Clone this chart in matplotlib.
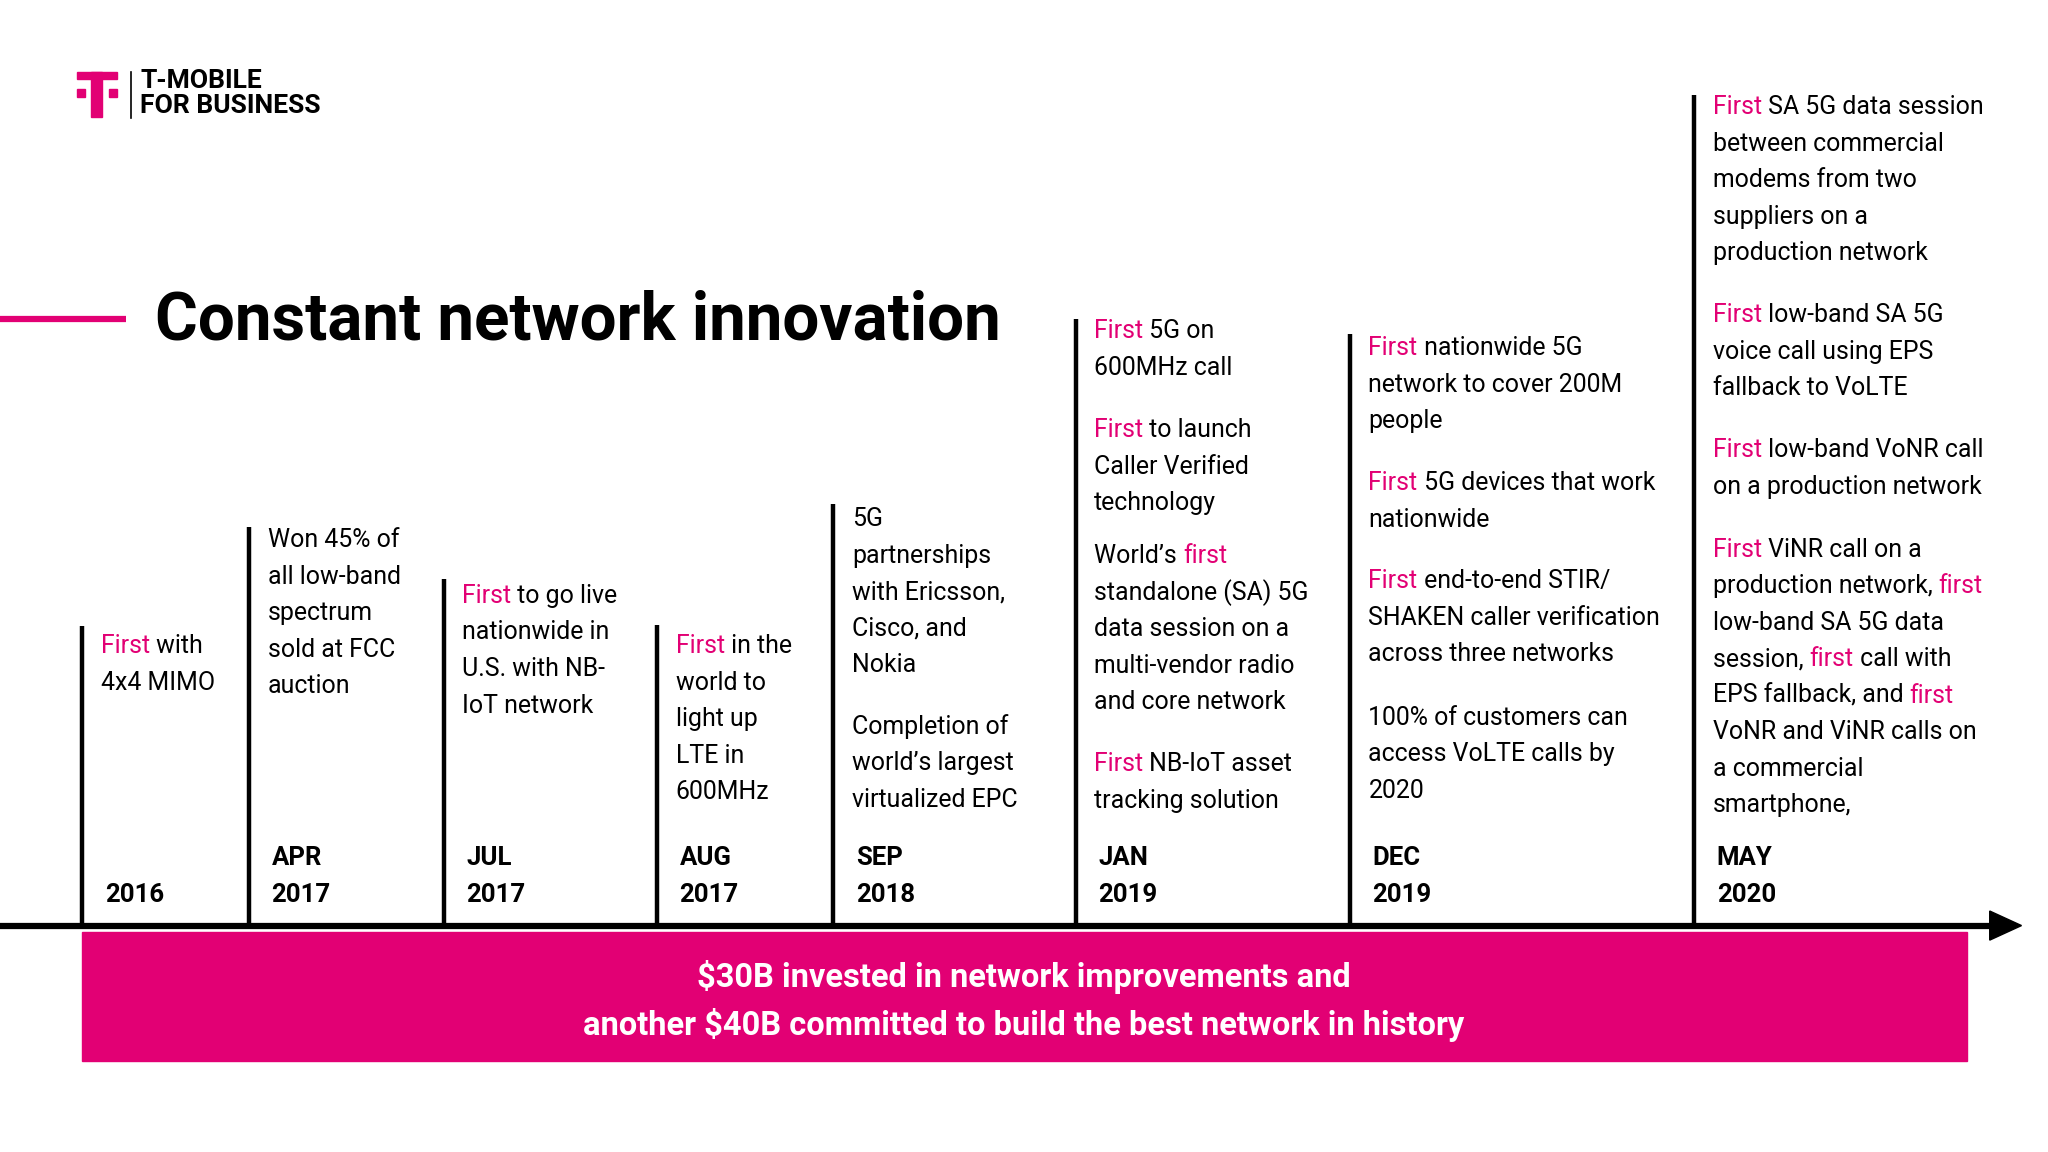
import matplotlib.pyplot as plt
from matplotlib.patches import Rectangle, Polygon

MAGENTA = '#E20074'
W, H = 1546, 870          # reference layout units
PT = 1152 / H * 0.72      # layout px -> points

title = "Constant network innovation"
banner = ["$30B invested in network improvements and",
          "another $40B committed to build the best network in history"]

# each milestone: (line x, line top, date lines, text blocks)
# text blocks: list of (start y, lines); *word* is drawn in magenta
milestones = [
    (62, 473, ["2016"], [(488, ["*First* with", "4x4 MIMO"])]),
    (188, 398, ["APR", "2017"], [(408, ["Won 45% of", "all low-band", "spectrum", "sold at FCC", "auction"])]),
    (335, 437, ["JUL", "2017"], [(450, ["*First* to go live", "nationwide in", "U.S. with NB-", "IoT network"])]),
    (496, 472, ["AUG", "2017"], [(488, ["*First* in the", "world to", "light up", "LTE in", "600MHz"])]),
    (629, 381, ["SEP", "2018"], [(392, ["5G", "partnerships", "with Ericsson,", "Cisco, and", "Nokia"]),
                                 (549, ["Completion of", "world\u2019s largest", "virtualized EPC"])]),
    (812, 241, ["JAN", "2019"], [(250, ["*First* 5G on", "600MHz call"]),
                                 (325, ["*First* to launch", "Caller Verified", "technology"]),
                                 (420, ["World\u2019s *first*", "standalone (SA) 5G", "data session on a",
                                        "multi-vendor radio", "and core network"]),
                                 (577, ["*First* NB-IoT asset", "tracking solution"])]),
    (1019, 252, ["DEC", "2019"], [(263, ["*First* nationwide 5G", "network to cover 200M", "people"]),
                                  (365, ["*First* 5G devices that work", "nationwide"]),
                                  (439, ["*First* end-to-end STIR/", "SHAKEN caller verification",
                                         "across three networks"]),
                                  (542, ["100% of customers can", "access VoLTE calls by", "2020"])]),
    (1279, 72, ["MAY", "2020"], [(81, ["*First* SA 5G data session", "between commercial", "modems from two",
                                       "suppliers on a", "production network"]),
                                 (238, ["*First* low-band SA 5G", "voice call using EPS", "fallback to VoLTE"]),
                                 (340, ["*First* low-band VoNR call", "on a production network"]),
                                 (415, ["*First* ViNR call on a", "production network, *first*",
                                        "low-band SA 5G data", "session, *first* call with",
                                        "EPS fallback, and *first*", "VoNR and ViNR calls on",
                                        "a commercial", "smartphone,"])]),
]

plt.rcParams['font.family'] = ['Roboto', 'DejaVu Sans']
fig = plt.figure(figsize=(20.48, 11.52), dpi=100)
ax = fig.add_axes([0, 0, 1, 1])
ax.set_xlim(0, W)
ax.set_ylim(H, 0)
ax.axis('off')
renderer = fig.canvas.get_renderer()
inv = ax.transData.inverted()


def rich_line(x, y, markup, size):
    parts = markup.split('*')
    for i, p in enumerate(parts):
        if not p:
            continue
        t = ax.text(x, y, p, fontsize=size, color=MAGENTA if i % 2 else 'black',
                    va='center', ha='left')
        bb = t.get_window_extent(renderer)
        x = inv.transform((bb.x1, bb.y0))[0]


BODY = 18.8 * PT
LINE = 27.6
for lx, top, dates, blocks in milestones:
    ax.plot([lx, lx], [top, 697], color='black', lw=3.2, solid_capstyle='butt')
    for y0, lines in blocks:
        for k, s in enumerate(lines):
            rich_line(lx + 14, y0 + k * LINE, s, BODY)
    for k, d in enumerate(reversed(dates)):
        ax.text(lx + 17, 676 - k * 28, d, fontsize=19.5 * PT, fontweight='bold', va='center')

# timeline axis + arrow
ax.plot([0, 1508], [699, 699], color='black', lw=4.5, solid_capstyle='butt')
ax.add_patch(Polygon([[1502, 688], [1526, 699], [1502, 710]], color='black'))

# banner
ax.add_patch(Rectangle((62, 704), 1423, 97, color=MAGENTA))
for k, s in enumerate(banner):
    ax.text(773, 738 + k * 36, s, fontsize=24.6 * PT, fontweight='bold', color='white',
            ha='center', va='center')

# title
ax.plot([0, 95], [241, 241], color=MAGENTA, lw=4.5, solid_capstyle='butt')
ax.text(117, 243, title, fontsize=49.5 * PT, fontweight='bold', va='center', ha='left')

# logo
ax.add_patch(Rectangle((58, 54), 30, 6, color=MAGENTA))
ax.add_patch(Rectangle((69, 54), 8, 34, color=MAGENTA))
ax.add_patch(Rectangle((58, 67), 6, 6, color=MAGENTA))
ax.add_patch(Rectangle((82, 67), 6, 6, color=MAGENTA))
ax.plot([99, 99], [54, 89], color='black', lw=1.2)
ax.text(106, 61, "T-MOBILE", fontsize=20 * PT, fontweight='bold', va='center')
ax.text(106, 80, "FOR BUSINESS", fontsize=20 * PT, fontweight='bold', va='center')

fig.savefig('out.png', dpi=100, facecolor='white')
